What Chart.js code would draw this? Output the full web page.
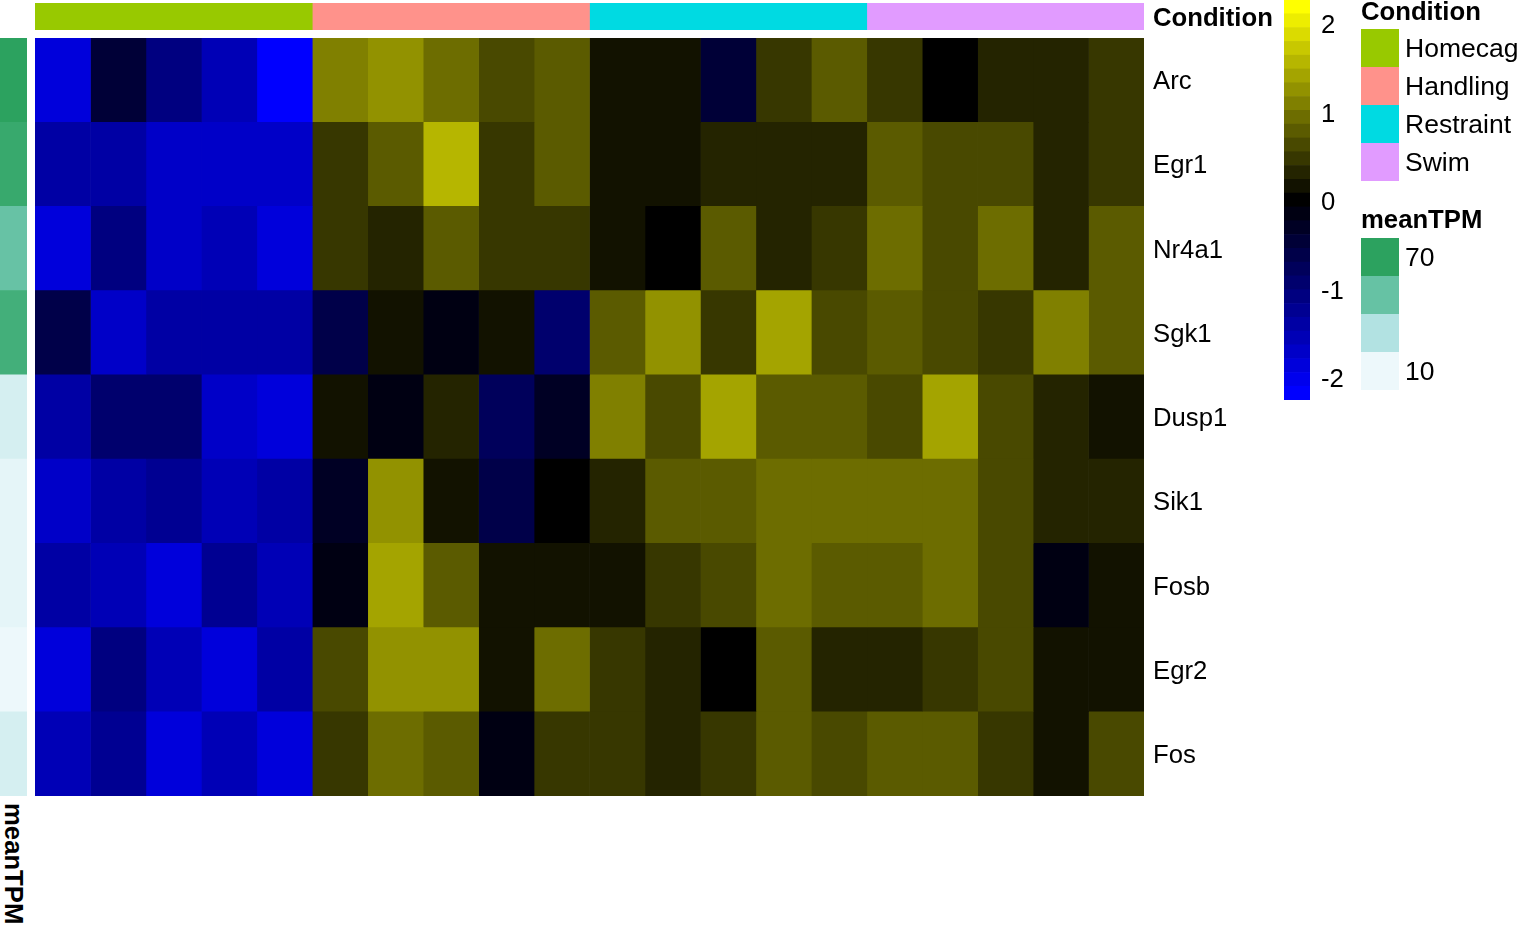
<!DOCTYPE html>
<html>
<head>
<meta charset="utf-8">
<title>Heatmap</title>
<script src="https://cdn.jsdelivr.net/npm/chart.js@4.4.1/dist/chart.umd.min.js"></script>
<style>
    body { margin: 0; width: 1519px; height: 930px; overflow: hidden; position: relative; background: #fff;
           font-family: "Liberation Sans", Arial, sans-serif; color: #000; }
    .abs { position: absolute; }
    .lg-title { position: absolute; font-size: 25.7px; font-weight: bold; line-height: 30px; white-space: nowrap; }
    .lg-box { position: absolute; width: 38px; height: 38px; }
    .lg-text { position: absolute; font-size: 26.5px; line-height: 38px; white-space: nowrap; }
    #tpmName { position: absolute; left: 27px; top: 803px; font-size: 25.7px; font-weight: bold; line-height: 26px;
               white-space: nowrap; transform-origin: 0 0; transform: rotate(90deg); }
</style>
</head>
<body>
<div class="abs" style="left:35px; top:3px;"><canvas id="condChart" width="1245" height="27"></canvas></div>
<div class="abs" style="left:0px; top:38px;"><canvas id="tpmChart" width="27" height="758"></canvas></div>
<div class="abs" style="left:35px; top:38px;"><canvas id="heatChart" width="1245" height="758"></canvas></div>
<div class="abs" style="left:1284px; top:0px;"><canvas id="scaleChart" width="80" height="400"></canvas></div>
<div id="tpmName">meanTPM</div>
<div id="legends"></div>

<script>
// genes (rows) and samples (columns)
const genes = ['Arc', 'Egr1', 'Nr4a1', 'Sgk1', 'Dusp1', 'Sik1', 'Fosb', 'Egr2', 'Fos'];
const samples = ['HC1', 'HC2', 'HC3', 'HC4', 'HC5', 'HD1', 'HD2', 'HD3', 'HD4', 'HD5',
                 'RS1', 'RS2', 'RS3', 'RS4', 'RS5', 'SW1', 'SW2', 'SW3', 'SW4', 'SW5'];
const sampleCondition = ['Homecage', 'Homecage', 'Homecage', 'Homecage', 'Homecage',
                         'Handling', 'Handling', 'Handling', 'Handling', 'Handling',
                         'Restraint', 'Restraint', 'Restraint', 'Restraint', 'Restraint',
                         'Swim', 'Swim', 'Swim', 'Swim', 'Swim'];
const conditions = ['Homecage', 'Handling', 'Restraint', 'Swim'];
const conditionColors = ['#98c900', '#ff928b', '#00dae2', '#e19bff'];

// row z-scores
const zArc   = [-1.87, -0.47, -1.09, -1.56, -2.18, 1.09, 1.25, 0.94, 0.62, 0.78, 0.16, 0.16, -0.47, 0.47, 0.78, 0.47, 0.00, 0.31, 0.31, 0.47];
const zEgr1  = [-1.40, -1.40, -1.72, -1.72, -1.72, 0.47, 0.78, 1.56, 0.47, 0.78, 0.16, 0.16, 0.31, 0.31, 0.31, 0.78, 0.62, 0.62, 0.31, 0.47];
const zNr4a1 = [-1.87, -1.09, -1.72, -1.56, -1.87, 0.47, 0.31, 0.78, 0.47, 0.47, 0.16, 0.00, 0.78, 0.31, 0.47, 0.94, 0.62, 0.94, 0.31, 0.78];
const zSgk1  = [-0.62, -1.72, -1.40, -1.40, -1.40, -0.62, 0.16, -0.16, 0.16, -0.94, 0.78, 1.25, 0.47, 1.40, 0.62, 0.78, 0.62, 0.47, 1.09, 0.78];
const zDusp1 = [-1.40, -0.94, -0.94, -1.72, -1.87, 0.16, -0.16, 0.31, -0.78, -0.31, 1.09, 0.62, 1.40, 0.78, 0.78, 0.62, 1.40, 0.62, 0.31, 0.16];
const zSik1  = [-1.72, -1.40, -1.25, -1.56, -1.40, -0.31, 1.25, 0.16, -0.62, 0.00, 0.31, 0.78, 0.78, 0.94, 0.94, 0.94, 0.94, 0.62, 0.31, 0.31];
const zFosb  = [-1.40, -1.56, -1.87, -1.25, -1.56, -0.16, 1.40, 0.78, 0.16, 0.16, 0.16, 0.47, 0.62, 0.94, 0.78, 0.78, 0.94, 0.62, -0.16, 0.16];
const zEgr2  = [-1.87, -1.09, -1.56, -1.87, -1.40, 0.62, 1.25, 1.25, 0.16, 0.94, 0.47, 0.31, 0.00, 0.78, 0.31, 0.31, 0.47, 0.62, 0.16, 0.16];
const zFos   = [-1.56, -1.25, -1.87, -1.56, -1.87, 0.47, 0.94, 0.78, -0.16, 0.47, 0.47, 0.31, 0.47, 0.78, 0.62, 0.78, 0.78, 0.47, 0.16, 0.62];
const zscores = [zArc, zEgr1, zNr4a1, zSgk1, zDusp1, zSik1, zFosb, zEgr2, zFos];

// row annotation
const meanTPM = [80, 74.5, 53.3, 69.6, 11.2, 4.0, 4.0, 0.6, 11.2];
const tpmPalette = ['#edf8fb', '#b2e2e2', '#66c2a4', '#2ca25f'];
const tpmLegendLabels = ['70', '', '', '10'];

// colour key
const scaleTicks = [-2, -1, 0, 1, 2];
const bandSize = 0.156;
const bandsPerSide = 14;

Chart.defaults.font.family = '"Liberation Sans", Arial, sans-serif';
Chart.defaults.color = '#000';

function zColor(v) {
    const k = Math.min(bandsPerSide, Math.round(Math.abs(v) / bandSize));
    const c = Math.round(k * 255 / bandsPerSide);
    return v >= 0 ? 'rgb(' + c + ',' + c + ',0)' : 'rgb(0,0,' + c + ')';
}

function hexToRgb(h) {
    return [parseInt(h.substr(1, 2), 16), parseInt(h.substr(3, 2), 16), parseInt(h.substr(5, 2), 16)];
}

function tpmColor(v) {
    const lo = Math.min(...meanTPM), hi = Math.max(...meanTPM);
    const t = (v - lo) / (hi - lo) * (tpmPalette.length - 1);
    const i = Math.min(tpmPalette.length - 2, Math.floor(t));
    const f = t - i;
    const a = hexToRgb(tpmPalette[i]), b = hexToRgb(tpmPalette[i + 1]);
    const m = a.map((x, j) => Math.round(x + (b[j] - x) * f));
    return 'rgb(' + m.join(',') + ')';
}

const fontSize = 25.7;
const noPlugins = { legend: { display: false }, tooltip: { enabled: false } };
const barDefaults = { borderWidth: 0, barPercentage: 1, categoryPercentage: 1, grouped: false };

function fixAxis(width) {
    return function(scale) {
        scale.width = width;
        scale.paddingTop = 0;
        scale.paddingBottom = 0;
    };
}

// main heatmap: one floating-bar dataset per sample column
new Chart(document.getElementById('heatChart'), {
    type: 'bar',
    data: {
        labels: genes,
        datasets: samples.map((s, c) => Object.assign({
            label: s,
            data: genes.map(() => [c, c + 1]),
            backgroundColor: zscores.map(row => zColor(row[c]))
        }, barDefaults))
    },
    options: {
        indexAxis: 'y',
        responsive: false,
        animation: false,
        plugins: noPlugins,
        scales: {
            x: { type: 'linear', min: 0, max: samples.length, display: false },
            y: {
                position: 'right',
                grid: { display: false, drawTicks: false },
                border: { display: false },
                ticks: { padding: 9, labelOffset: 2, font: { size: fontSize }, color: '#000' },
                afterFit: fixAxis(136)
            }
        }
    }
});

// condition annotation bar
const condGroups = conditions.map(cond => {
    const idx = sampleCondition.map((c, i) => c === cond ? i : -1).filter(i => i >= 0);
    return [Math.min(...idx), Math.max(...idx) + 1];
});
new Chart(document.getElementById('condChart'), {
    type: 'bar',
    data: {
        labels: ['Condition'],
        datasets: conditions.map((cond, i) => Object.assign({
            label: cond,
            data: [condGroups[i]],
            backgroundColor: conditionColors[i]
        }, barDefaults))
    },
    options: {
        indexAxis: 'y',
        responsive: false,
        animation: false,
        plugins: noPlugins,
        scales: {
            x: { type: 'linear', min: 0, max: samples.length, display: false },
            y: {
                position: 'right',
                grid: { display: false, drawTicks: false },
                border: { display: false },
                ticks: { padding: 9, labelOffset: 2, font: { size: fontSize, weight: 'bold' }, color: '#000' },
                afterFit: fixAxis(136)
            }
        }
    }
});

// meanTPM row annotation
new Chart(document.getElementById('tpmChart'), {
    type: 'bar',
    data: {
        labels: genes,
        datasets: [Object.assign({
            label: 'meanTPM',
            data: genes.map(() => [0, 1]),
            backgroundColor: meanTPM.map(tpmColor)
        }, barDefaults)]
    },
    options: {
        indexAxis: 'y',
        responsive: false,
        animation: false,
        plugins: noPlugins,
        scales: {
            x: { type: 'linear', min: 0, max: 1, display: false },
            y: { display: false }
        }
    }
});

// colour key
const bands = [];
for (let k = -bandsPerSide; k <= bandsPerSide; k++) {
    bands.push([(k - 0.5) * bandSize, (k + 0.5) * bandSize]);
}
const keyMax = (bandsPerSide + 0.5) * bandSize;
new Chart(document.getElementById('scaleChart'), {
    type: 'bar',
    data: {
        labels: [''],
        datasets: bands.map(b => Object.assign({
            data: [b],
            backgroundColor: zColor((b[0] + b[1]) / 2)
        }, barDefaults))
    },
    options: {
        responsive: false,
        animation: false,
        plugins: noPlugins,
        scales: {
            x: { display: false },
            y: {
                type: 'linear',
                min: -keyMax,
                max: keyMax,
                position: 'right',
                grid: { display: false, drawTicks: false },
                border: { display: false },
                afterBuildTicks: scale => { scale.ticks = scaleTicks.map(v => ({ value: v })); },
                ticks: { padding: 11, labelOffset: 3, font: { size: fontSize }, color: '#000' },
                afterFit: fixAxis(54)
            }
        }
    }
});

// annotation legends
const legends = document.getElementById('legends');
function addEl(cls, style, text) {
    const d = document.createElement('div');
    d.className = cls;
    Object.assign(d.style, style);
    if (text) d.textContent = text;
    legends.appendChild(d);
}
addEl('lg-title', { left: '1361px', top: '-4px' }, 'Condition');
conditions.forEach((c, i) => {
    const top = 29 + i * 38;
    addEl('lg-box', { left: '1361px', top: top + 'px', background: conditionColors[i] });
    addEl('lg-text', { left: '1405px', top: top + 'px' }, c);
});
addEl('lg-title', { left: '1361px', top: '204px' }, 'meanTPM');
tpmPalette.slice().reverse().forEach((col, i) => {
    const top = 238 + i * 38;
    addEl('lg-box', { left: '1361px', top: top + 'px', background: col });
    if (tpmLegendLabels[i]) addEl('lg-text', { left: '1405px', top: top + 'px' }, tpmLegendLabels[i]);
});
</script>
</body>
</html>
